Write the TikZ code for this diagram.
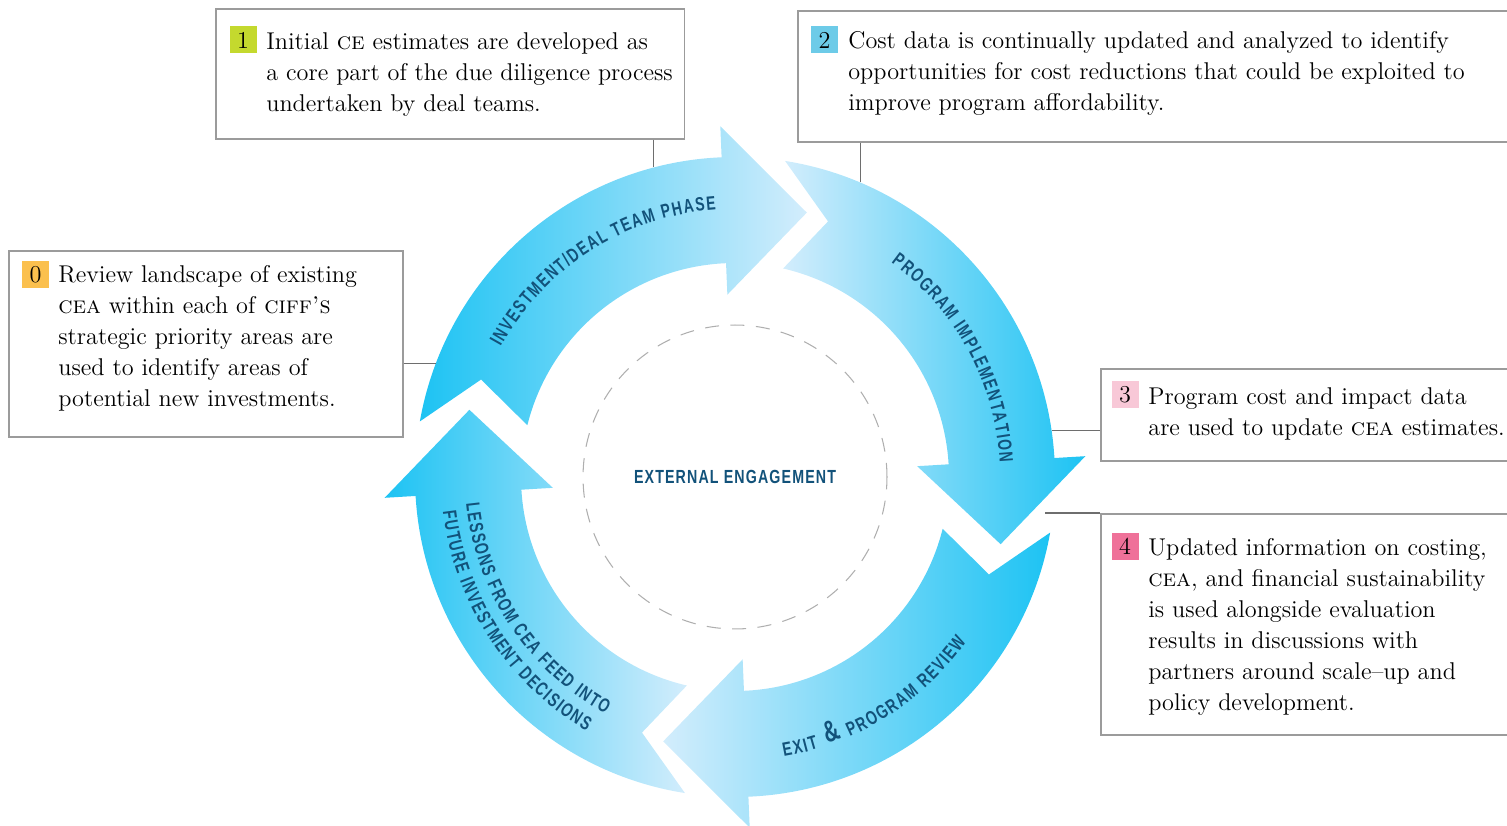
\documentclass[tikz,border=0pt]{standalone}
\usepackage{fontspec}
\usetikzlibrary{calc,decorations.text}
\newfontfamily\arcfam[FakeStretch=0.72]{Liberation Sans}
\newfontfamily\engfam[FakeStretch=0.75, LetterSpace=6]{Liberation Sans}
\newcommand\arcfont{\arcfam\bfseries\fontsize{11}{13}\selectfont}
\newcommand\ampfont{\arcfam\bfseries\fontsize{17}{18}\selectfont}
\definecolor{arrowdark}{RGB}{29,195,243}
\definecolor{arrowlight}{RGB}{211,237,252}
\definecolor{labelblue}{RGB}{18,82,122}
\definecolor{boxgray}{RGB}{155,155,155}
\definecolor{linkgray}{RGB}{110,110,110}
\definecolor{ringgray}{RGB}{175,175,175}
\definecolor{badgezero}{RGB}{251,192,78}
\definecolor{badgeone}{RGB}{196,217,46}
\definecolor{badgetwo}{RGB}{109,203,232}
\definecolor{badgethree}{RGB}{248,200,215}
\definecolor{badgefour}{RGB}{239,113,153}

\begin{document}
\begin{tikzpicture}[x=0.02cm, y=0.02cm,
  infobox/.style={draw=boxgray, line width=0.9pt, fill=white, anchor=north west, inner sep=0pt},
  infotext/.style={anchor=north west, inner sep=0pt, align=left, font=\fontsize{13.8}{17.6}\selectfont},
  badge/.style={minimum size=0.54cm, inner sep=0pt, font=\fontsize{13.8}{16}\selectfont},
  link/.style={draw=linkgray, line width=0.6pt},
  arclabel/.style={decorate, decoration={text effects along path, text={#1}, text align=center,
    text effects/.cd, text along path, characters={text=labelblue, font=\arcfont},
    character widths={inner xsep=0.45pt, font=\arcfont}}},
  amplabel/.style={decorate, decoration={text along path, text={|\ampfont|{\&}}, text align=center, text color=labelblue}}
]
\useasboundingbox (0,0) rectangle (1507,825);
\clip (0,0) rectangle (1507,825);

\coordinate (C) at (735,348);

\foreach \o/\lc/\rc in {0/arrowdark/arrowlight, -89/arrowlight/arrowdark, -180/arrowlight/arrowdark, -269/arrowdark/arrowlight}
  {\shade[left color=\lc, right color=\rc]
     ($(C)+({\o+170}:320)$) arc[start angle={\o+170}, end angle={\o+92.4}, radius=320]
     -- ($(C)+({\o+92.4}:351)$) -- ($(C)+({\o+74.8}:274)$) -- ($(C)+({\o+92.4}:182.5)$)
     -- ($(C)+({\o+92.4}:214)$) arc[start angle={\o+92.4}, end angle={\o+166}, radius=214]
     -- ($(C)+({\o+159}:272)$) -- cycle;}

\path[arclabel={INVESTMENT/DEAL TEAM PHASE}] ($(C)+(167:268)$) arc[start angle=167, end angle=78, radius=268];
\path[arclabel={PROGRAM IMPLEMENTATION}] ($(C)+(73:265)$) arc[start angle=73, end angle=-16, radius=265];
\path[arclabel={EXIT}] ($(C)+(-96.5:284)$) arc[start angle=-96.5, end angle=-56.5, radius=284];
\path[amplabel] ($(C)+(-89.3:282)$) arc[start angle=-89.3, end angle=-49.3, radius=282];
\path[arclabel={PROGRAM REVIEW}] ($(C)+(-80.8:284)$) arc[start angle=-80.8, end angle=-20.8, radius=284];
\path[arclabel={LESSONS FROM CEA FEED INTO}] ($(C)+(169:270)$) arc[start angle=169, end angle=258, radius=270];
\path[arclabel={FUTURE INVESTMENT DECISIONS}] ($(C)+(168.7:294)$) arc[start angle=168.7, end angle=257.7, radius=294];

\node[circle, draw=ringgray, line width=0.6pt, dash pattern=on 8pt off 6.5pt, minimum size=6.08cm,
      font=\engfam\bfseries\fontsize{10.8}{12}\selectfont, text=labelblue] (engage) at (C) {EXTERNAL ENGAGEMENT};

\coordinate (end0) at ($(C)+(159.3:320)$);
\coordinate (end1) at ($(C)+(104.7:320)$);
\coordinate (end2) at ($(C)+(67:320)$);
\coordinate (end3) at ($(C)+(8.3:320)$);
\coordinate (end4) at (1045,312);

\node[infobox, minimum width=7.88cm, minimum height=3.72cm] (box0) at (8,575) {};
\node[infobox, minimum width=9.38cm, minimum height=2.6cm] (box1) at (215,817) {};
\node[infobox, minimum width=14.3cm, minimum height=2.62cm] (box2) at (797,815) {};
\node[infobox, minimum width=8.24cm, minimum height=1.84cm] (box3) at (1100,457) {};
\node[infobox, minimum width=8.24cm, minimum height=4.42cm] (box4) at (1100,312) {};

\draw[link] (box0.east |- end0) -- (end0);
\draw[link] (box1.south -| end1) -- (end1);
\draw[link] (box2.south -| end2) -- (end2);
\draw[link] (box3.west |- end3) -- (end3);
\draw[link] (end4) -- (box4.north west);

\node[badge, fill=badgezero] (num0) at (35.5,550.5) {0};
\node[badge, fill=badgeone] (num1) at (243,785) {1};
\node[badge, fill=badgetwo] (num2) at (824.5,785) {2};
\node[badge, fill=badgethree] (num3) at (1125,430) {3};
\node[badge, fill=badgefour] (num4) at (1125,278.5) {4};

\node[infotext] (text0) at (58,560) {Review landscape of existing\\\textsc{cea} within each of \textsc{ciff's}\\strategic priority areas are\\used to identify areas of\\potential new investments.};
\node[infotext] (text1) at (266,793) {Initial \textsc{ce} estimates are developed as\\a core part of the due diligence process\\undertaken by deal teams.};
\node[infotext] (text2) at (848,794) {Cost data is continually updated and analyzed to identify\\opportunities for cost reductions that could be exploited to\\improve program affordability.};
\node[infotext] (text3) at (1148,438) {Program cost and impact data\\are used to update \textsc{cea} estimates.};
\node[infotext] (text4) at (1148,287) {Updated information on costing,\\\textsc{cea}, and financial sustainability\\is used alongside evaluation\\results in discussions with\\partners around scale--up and\\policy development.};

\end{tikzpicture}
\end{document}
